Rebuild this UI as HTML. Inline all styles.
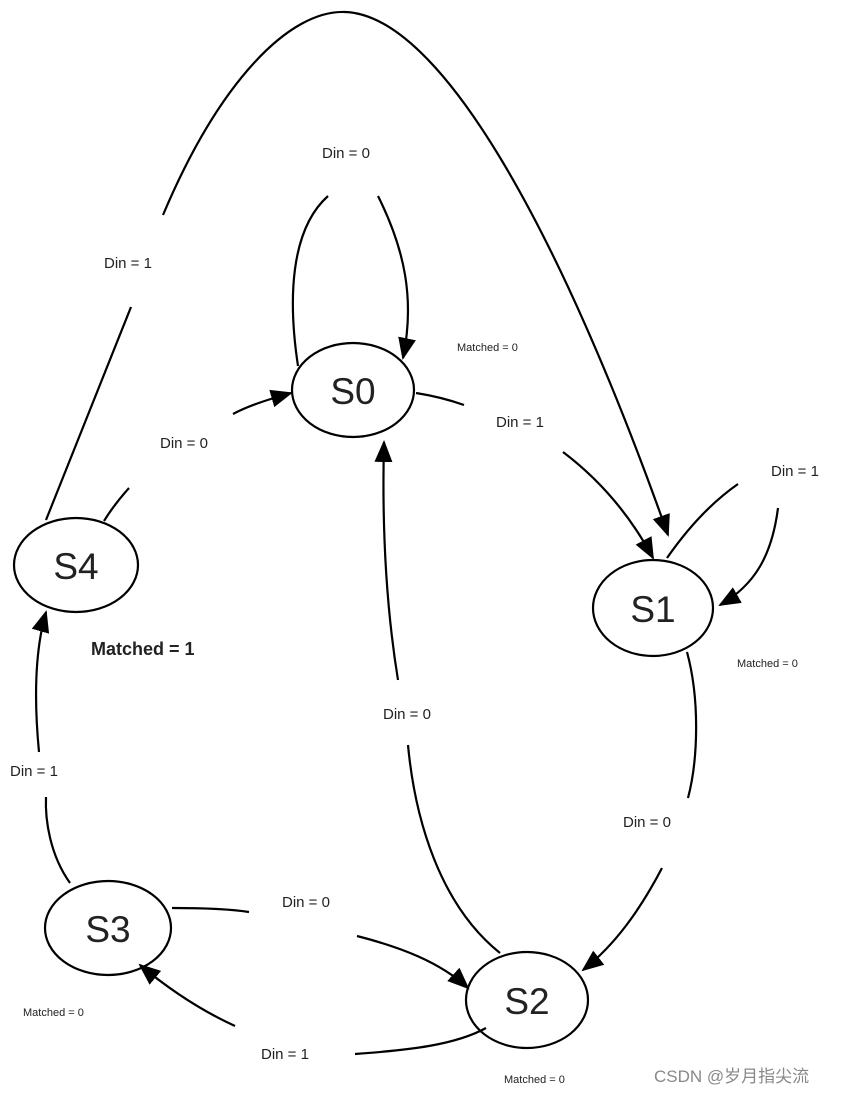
<!DOCTYPE html>
<html><head><meta charset="utf-8"><style>
html,body{margin:0;padding:0;background:#fff;}
svg{display:block;}
text{font-family:"Liberation Sans",sans-serif;fill:#222;}
</style></head><body>
<svg width="841" height="1093" viewBox="0 0 841 1093" xmlns="http://www.w3.org/2000/svg">
<defs>
<marker id="a" markerWidth="10" markerHeight="10" refX="8" refY="5" orient="auto" markerUnits="userSpaceOnUse" viewBox="0 0 10 10">
<path d="M0,0 L10,5 L0,10 z" fill="#000"/></marker>
<marker id="b" markerWidth="22" markerHeight="22" refX="20" refY="11" orient="auto" markerUnits="userSpaceOnUse" viewBox="0 0 22 22">
<path d="M0,2 L22,11 L0,20 z" fill="#000"/></marker>
</defs>
<g fill="none" stroke="#000" stroke-width="2.2">
<ellipse cx="353" cy="390" rx="61" ry="47"/>
<ellipse cx="653" cy="608" rx="60" ry="48"/>
<ellipse cx="527" cy="1000" rx="61" ry="48"/>
<ellipse cx="108" cy="928" rx="63" ry="47"/>
<ellipse cx="76" cy="565" rx="62" ry="47"/>
<!-- big arc -->
<path d="M46,520 L131,307"/>
<path d="M163,215 C220,80 290,10 345,12 C440,15 560,230 668,535" marker-end="url(#b)"/>
<!-- S0 loop -->
<path d="M298,365 C288,300 285,240 328,296" stroke="none"/>
<path d="M298,365 C290,310 285,240 328,296" stroke="none"/>
<path d="M298,366 C288,300 290,230 328,196"/>
<path d="M378,196 C405,250 415,300 403,358" marker-end="url(#b)"/>
<!-- S0 -> S1 -->
<path d="M416,393 C435,396 450,400 464,405"/>
<path d="M563,452 C600,480 630,515 653,558" marker-end="url(#b)"/>
<!-- S1 self loop -->
<path d="M667,558 C690,525 715,500 738,484"/>
<path d="M778,508 C772,555 755,585 720,605" marker-end="url(#b)"/>
<!-- S1 -> S2 -->
<path d="M687,652 C700,700 698,760 688,798"/>
<path d="M662,868 C640,910 615,945 583,970" marker-end="url(#b)"/>
<!-- S2 -> S0 -->
<path d="M500,953 C440,905 415,820 408,745"/>
<path d="M398,680 C385,600 382,520 384,442" marker-end="url(#b)"/>
<!-- S3 -> S2 -->
<path d="M172,908 C200,908 230,909 249,912"/>
<path d="M357,936 C400,947 440,962 468,988" marker-end="url(#b)"/>
<!-- S2 -> S3 -->
<path d="M355,1054 C410,1050 455,1045 486,1028"/>
<path d="M235,1026 C200,1010 170,990 140,965" marker-end="url(#b)"/>
<!-- S3 -> S4 -->
<path d="M70,883 C50,855 45,820 46,797"/>
<path d="M39,752 C34,700 35,650 46,612" marker-end="url(#b)"/>
<!-- S4 -> S0 -->
<path d="M104,521 C112,508 120,498 129,488"/>
<path d="M233,414 C250,405 270,399 291,393" marker-end="url(#b)"/>
</g>
<g font-size="37" text-anchor="middle">
<text x="353" y="404">S0</text>
<text x="653" y="622">S1</text>
<text x="527" y="1014">S2</text>
<text x="108" y="942">S3</text>
<text x="76" y="579">S4</text>
</g>
<g font-size="15">
<text x="322" y="158">Din = 0</text>
<text x="104" y="268">Din = 1</text>
<text x="160" y="448">Din = 0</text>
<text x="496" y="427">Din = 1</text>
<text x="771" y="476">Din = 1</text>
<text x="383" y="719">Din = 0</text>
<text x="623" y="827">Din = 0</text>
<text x="282" y="907">Din = 0</text>
<text x="10" y="776">Din = 1</text>
<text x="261" y="1059">Din = 1</text>
</g>
<g font-size="11">
<text x="457" y="351">Matched = 0</text>
<text x="737" y="667">Matched = 0</text>
<text x="23" y="1016">Matched = 0</text>
<text x="504" y="1083">Matched = 0</text>
</g>
<text x="91" y="655" font-size="18" font-weight="bold">Matched = 1</text>
<text x="654" y="1082" font-size="17" style="font-family:'Liberation Sans','Noto Sans CJK SC',sans-serif;fill:#888">CSDN @岁月指尖流</text>
</svg>
</body></html>
